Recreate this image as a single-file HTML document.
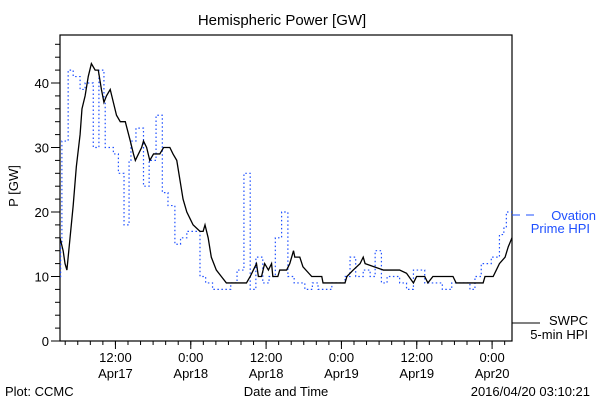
<!DOCTYPE html>
<html><head><meta charset="utf-8"><style>
body{margin:0;background:#fff;}
svg text{font-family:"Liberation Sans",sans-serif;font-size:13px;}
</style></head><body>
<svg id="chart" width="600" height="400" xmlns="http://www.w3.org/2000/svg">
<rect width="600" height="400" fill="#fff"/>
<text x="282" y="25" text-anchor="middle" font-size="15" style="font-size:15px">Hemispheric Power [GW]</text>
<text x="0" y="0" text-anchor="middle" transform="translate(18,186) rotate(-90)">P [GW]</text>
<text x="286" y="396" text-anchor="middle">Date and Time</text>
<text x="5" y="396">Plot: CCMC</text>
<text x="590" y="396" text-anchor="end">2016/04/20 03:10:21</text>
<g id="axes"></g>
<g id="series"></g>
<g>
<line x1="512" y1="215" x2="540" y2="215" stroke="#1f50ff" stroke-width="1" stroke-dasharray="8,6"/>
<text x="596" y="220" text-anchor="end" fill="#1f50ff">Ovation</text>
<text x="590" y="233" text-anchor="end" fill="#1f50ff">Prime HPI</text>
<line x1="512" y1="323" x2="540" y2="323" stroke="#000" stroke-width="1"/>
<text x="588" y="325" text-anchor="end">SWPC</text>
<text x="588" y="339" text-anchor="end">5-min HPI</text>
</g>
</svg>
<script>
const yTicks=[0,10,20,30,40];
const xTickHours=[8.83,20.83,32.83,44.83,56.83,68.83];
const xTickTimes=["12:00","0:00","12:00","0:00","12:00","0:00"];
const xTickDates=["Apr17","Apr18","Apr18","Apr19","Apr19","Apr20"];
const swpcHours=[0,0.5,0.8,1.1,1.6,2.1,2.6,3.2,3.5,4.0,4.5,5.0,5.6,6.1,6.6,7.0,7.4,8.0,8.5,9.0,9.6,10.4,11.2,11.7,12.0,12.5,13.0,13.3,13.8,14.3,14.9,15.9,16.5,17.5,18.0,18.6,19.1,19.6,20.2,20.7,21.2,22.3,22.8,23.1,23.6,24.1,24.9,25.7,26.5,29.7,30.3,30.8,31.3,31.6,32.1,32.6,33.2,33.7,33.9,34.7,35.0,36.1,36.6,37.2,37.4,38.2,38.7,40.1,41.7,41.9,45.4,45.7,46.7,47.8,48.3,48.6,51.5,54.1,55.2,56.3,56.8,58.1,58.6,59.4,62.6,63.1,67.4,67.7,69.0,69.5,70.0,70.9,71.4,72];
const swpcValues=[16,14,12,11,16,21,27,32,36,38,41,43,42,42,39,37,38,39,37,35,34,34,31,29,28,29,30,31,30,28,29,29,30,30,29,28,25,22,20,19,18,17,17,18,16,13,11,10,9,9,10,11,12,10,10,12,11,12,10,10,11,11,12,14,13,13,11.5,10,10,9,9,10,11,12,13,12,11,11,10.5,9,10,10,9,10,10,9,9,10,10,11,12,13,14.6,16];
const ovHours=[0,0.1,0.3,1.3,2.1,3.2,4.0,5.3,6.2,7.0,7.2,8.5,9.3,10.2,11.0,11.3,12.1,13.3,14.2,15.3,16.3,17.2,18.3,19.2,20.2,22.3,23.2,24.3,27.2,28.2,29.3,30.3,31.2,32.3,33.3,34.3,35.3,36.3,37.3,38.2,39.0,40.2,41.1,43.3,45.4,46.2,47.1,48.3,49.4,50.2,51.2,52.1,54.1,55.2,56.3,58.1,60.9,62.4,65.3,66.1,67.1,68.7,70.0,70.7,71.1];
const ovValues=[10,15,31,42,41,39,40,30,42,37,30,29,26,18,28,31,33,24,28,35,23,21,15,16,17,10,9,8,9,11,26,8,13,9,10,16,20,10,9,9,8,9,8,9,10,13,10,11,10,14,9,10,9,8,11,9,8,9,8,10,12,13,16.5,17.5,20];
const X0=60,X1=512,Y0=341,TOP=35,H=72;
const x=h=>X0+(X1-X0)*h/H;
const y=v=>Y0-6.45*v;
const NS="http://www.w3.org/2000/svg";
const ax=document.getElementById('axes'),se=document.getElementById('series');
function mk(t,a,p){const e=document.createElementNS(NS,t);for(const k in a)e.setAttribute(k,a[k]);p.appendChild(e);return e;}
const frame=mk('rect',{x:X0,y:TOP,width:X1-X0,height:Y0-TOP,fill:'none',stroke:'#000','stroke-width':1.2},ax);


for(let v=0;v<=46;v+=2){const l=mk('line',{x1:X0,x2:X0-(v%10==0?9:5),y1:y(v),y2:y(v),stroke:'#000'},ax);

}
yTicks.forEach(v=>{const t=mk('text',{x:X0-11,y:y(v)+5,'text-anchor':'end'},ax);t.textContent=v;

});
for(let h=0.83;h<=72;h+=2){const l=mk('line',{x1:x(h),x2:x(h),y1:Y0,y2:Y0+4,stroke:'#000'},ax);

}
xTickHours.forEach((h,i)=>{const l=mk('line',{x1:x(h),x2:x(h),y1:Y0,y2:Y0+8,stroke:'#000'},ax);


const t=mk('text',{x:x(h),y:362,'text-anchor':'middle'},ax);t.textContent=xTickTimes[i];


const d=mk('text',{x:x(h),y:378,'text-anchor':'middle'},ax);d.textContent=xTickDates[i];

});
let ps=[];ovHours.forEach((h,i)=>{if(i>0)ps.push(x(h)+','+y(ovValues[i-1]));ps.push(x(h)+','+y(ovValues[i]));});
ps.push(x(H)+','+y(ovValues[ovValues.length-1]));
const ov=mk('polyline',{points:ps.join(' '),fill:'none',stroke:'#1f50ff','stroke-width':1.2,'stroke-dasharray':'1.5,2.5'},se);


const sw=mk('polyline',{points:swpcHours.map((h,i)=>x(h)+','+y(swpcValues[i])).join(' '),fill:'none',stroke:'#000','stroke-width':1.3},se);


</script>
</body></html>
